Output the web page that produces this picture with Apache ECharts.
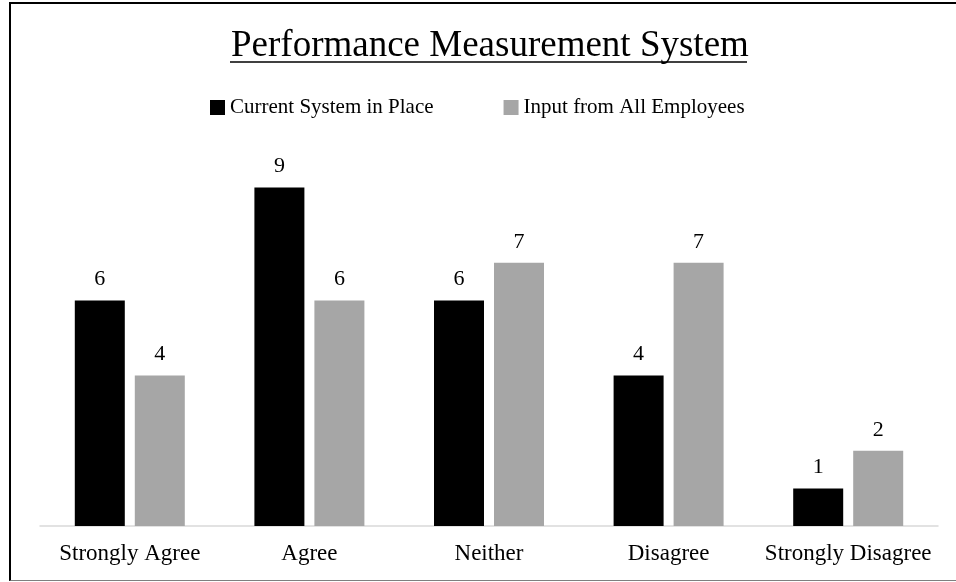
<!DOCTYPE html>
<html>
<head>
<meta charset="utf-8">
<script src="https://cdn.jsdelivr.net/npm/echarts@6/dist/echarts.min.js"></script>
<style>
    html, body {
        margin: 0;
        padding: 0;
        background: #ffffff;
    }
    .wrap {
        position: relative;
        width: 956px;
        height: 582px;
    }
    #chart {
        width: 956px;
        height: 582px;
    }
    .frame {
        position: absolute;
        left: 9px;
        top: 2px;
        width: 960px;
        height: 576px;
        border-left: 2px solid #000000;
        border-top: 2px solid #000000;
        border-bottom: 1.5px solid #7f7f7f;
        pointer-events: none;
    }
</style>
</head>
<body>
<div class="wrap">
    <div id="chart"></div>
    <div class="frame"></div>
</div>
<script>
    const categories = ['Strongly Agree', 'Agree', 'Neither', 'Disagree', 'Strongly Disagree'];
    const seriesNames = ['Current System in Place', 'Input from All Employees'];
    const currentSystem = [6, 9, 6, 4, 1];
    const inputEmployees = [4, 6, 7, 7, 2];

    const serif = "'Liberation Serif', 'Times New Roman', serif";

    const myChart = echarts.init(document.getElementById('chart'));

    const barLabel = {
        show: true,
        position: 'top',
        distance: 10,
        color: '#000000',
        fontFamily: serif,
        fontSize: 22
    };

    myChart.setOption({
        animation: false,
        textStyle: {
            fontFamily: serif
        },
        title: {
            text: 'Performance Measurement System',
            left: 226,
            top: 23,
            textStyle: {
                color: '#000000',
                fontFamily: serif,
                fontSize: 37,
                fontWeight: 'normal'
            }
        },
        graphic: [
            {
                // title underline
                type: 'line',
                shape: { x1: 230, y1: 62, x2: 747, y2: 62 },
                style: { stroke: '#000000', lineWidth: 1.5 }
            }
        ],
        legend: {
            left: 205,
            top: 92,
            icon: 'rect',
            itemWidth: 15,
            itemHeight: 15,
            itemGap: 70,
            textStyle: {
                color: '#000000',
                fontFamily: serif,
                fontSize: 21
            },
            data: seriesNames
        },
        grid: {
            left: 40,
            right: 18,
            top: 150,
            bottom: 56
        },
        xAxis: {
            type: 'category',
            data: categories,
            axisTick: { show: false },
            axisLine: {
                lineStyle: { color: '#d9d9d9', width: 1.5 }
            },
            axisLabel: {
                color: '#000000',
                fontFamily: serif,
                fontSize: 23,
                margin: 16,
                interval: 0
            }
        },
        yAxis: {
            type: 'value',
            min: 0,
            max: 10,
            show: false,
            splitLine: { show: false }
        },
        series: [
            {
                name: seriesNames[0],
                type: 'bar',
                data: currentSystem,
                barWidth: 50,
                barGap: '20%',
                itemStyle: { color: '#000000' },
                label: barLabel
            },
            {
                name: seriesNames[1],
                type: 'bar',
                data: inputEmployees,
                barWidth: 50,
                barGap: '20%',
                itemStyle: { color: '#a6a6a6' },
                label: barLabel
            }
        ]
    });
</script>
</body>
</html>
